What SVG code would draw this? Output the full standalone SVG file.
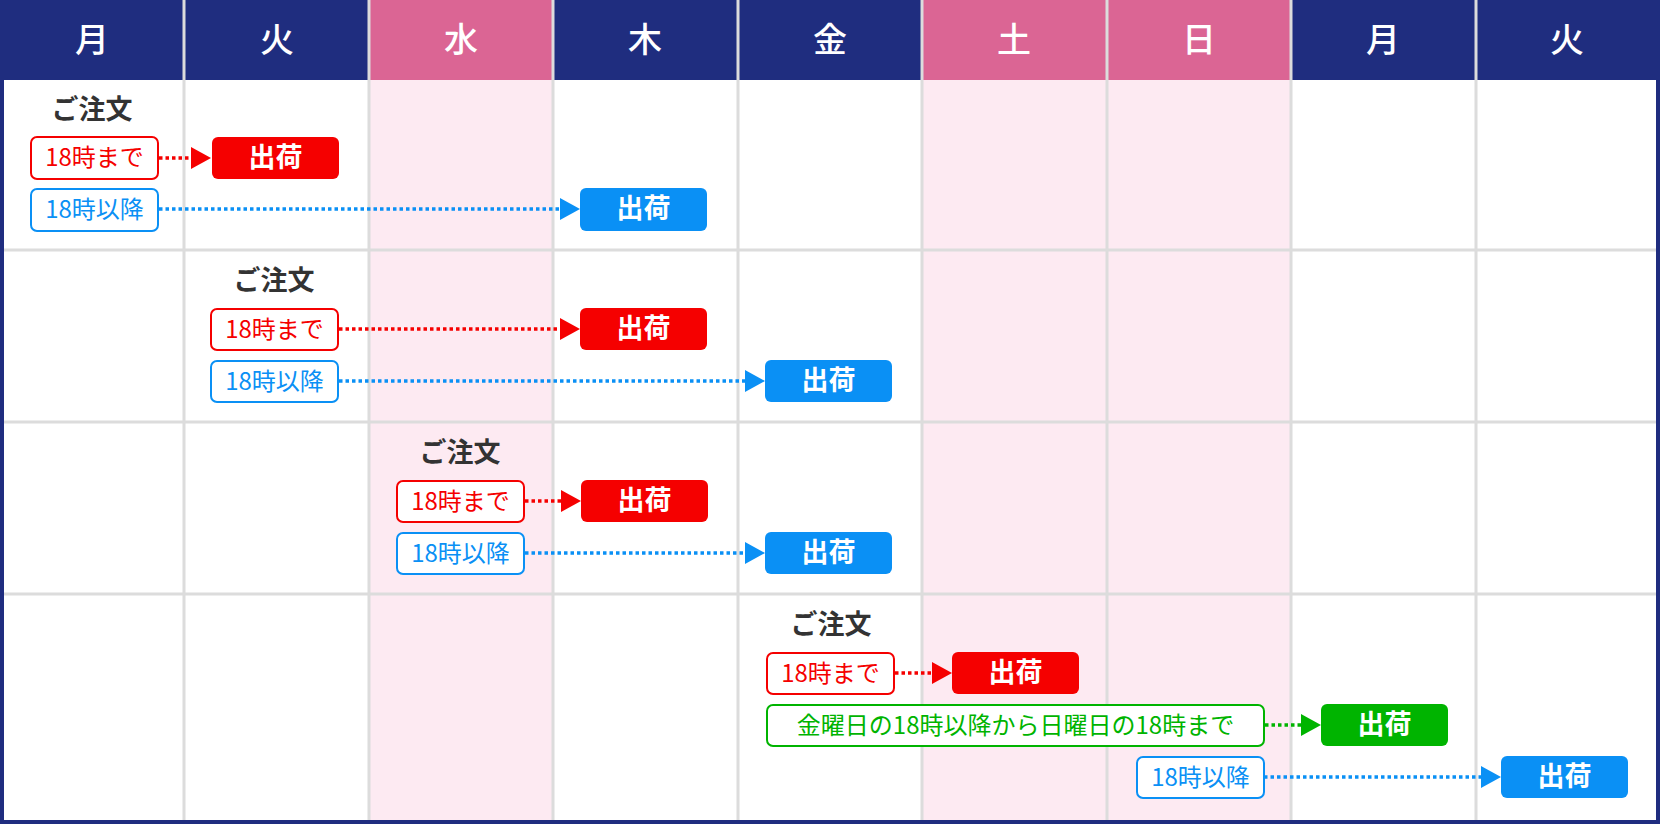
<svg xmlns="http://www.w3.org/2000/svg" width="1660" height="824" viewBox="0 0 1660 824">
<style>
.hd{font:500 34px "Noto Sans CJK JP","Noto Sans",sans-serif;fill:#fff;text-anchor:middle}
.od{font:700 27px "Noto Sans CJK JP",sans-serif;fill:#333;text-anchor:middle}
.lb{font:400 24px "Noto Sans CJK JP",sans-serif;text-anchor:middle}
.sh{font:700 27px "Noto Sans CJK JP",sans-serif;fill:#fff;text-anchor:middle}
.r{fill:#f50000}.b{fill:#0a90f5}.g{fill:#00b400}
.rb{fill:#fff;stroke:#f50000;stroke-width:2}.bb{fill:#fff;stroke:#0a90f5;stroke-width:2}.gb{fill:#fff;stroke:#00b400;stroke-width:2}
.cr{stroke:#f50000}.cb{stroke:#0a90f5}.cg{stroke:#00b400}
.c{stroke-width:3.5;stroke-dasharray:3.5 3;fill:none}
.gl{stroke:#dcdcdc;stroke-width:3}
</style>
<rect width="1660" height="824" fill="#1f2d7f"/>
<rect x="4" y="80" width="1652" height="740" fill="#fff"/>
<g id="bg">
<rect x="370" y="80" width="184" height="740" fill="#fdeaf2"/>
<rect x="922" y="80" width="368" height="740" fill="#fdeaf2"/>
<rect x="370" y="0" width="184" height="80" fill="#db6594"/>
<rect x="922" y="0" width="368" height="80" fill="#db6594"/>
</g>
<g id="grid">
<line class="gl" x1="4" y1="250" x2="1656" y2="250"/>
<line class="gl" x1="4" y1="422" x2="1656" y2="422"/>
<line class="gl" x1="4" y1="594" x2="1656" y2="594"/>
<line class="gl" x1="184" y1="0" x2="184" y2="820"/>
<line class="gl" x1="369" y1="0" x2="369" y2="820"/>
<line class="gl" x1="553" y1="0" x2="553" y2="820"/>
<line class="gl" x1="738" y1="0" x2="738" y2="820"/>
<line class="gl" x1="922" y1="0" x2="922" y2="820"/>
<line class="gl" x1="1107" y1="0" x2="1107" y2="820"/>
<line class="gl" x1="1291" y1="0" x2="1291" y2="820"/>
<line class="gl" x1="1476" y1="0" x2="1476" y2="820"/>
</g>
<g id="header">
<text class="hd" x="92" y="52">月</text><text class="hd" x="277" y="52">火</text><text class="hd" x="461" y="52">水</text>
<text class="hd" x="645" y="52">木</text><text class="hd" x="830" y="52">金</text><text class="hd" x="1014" y="52">土</text>
<text class="hd" x="1199" y="52">日</text><text class="hd" x="1383" y="52">月</text><text class="hd" x="1567" y="52">火</text>
</g>
<g id="connectors">
<line class="c cr" x1="159" y1="158" x2="192" y2="158"/><polygon class="r" points="191,147 211,158 191,169"/>
<line class="c cb" x1="159" y1="209" x2="561" y2="209"/><polygon class="b" points="560,198 580,209 560,220"/>
<line class="c cr" x1="339" y1="329" x2="561" y2="329"/><polygon class="r" points="560,318 580,329 560,340"/>
<line class="c cb" x1="339" y1="381" x2="746" y2="381"/><polygon class="b" points="745,370 765,381 745,392"/>
<line class="c cr" x1="525" y1="501" x2="562" y2="501"/><polygon class="r" points="561,490 581,501 561,512"/>
<line class="c cb" x1="525" y1="553" x2="746" y2="553"/><polygon class="b" points="745,542 765,553 745,564"/>
<line class="c cr" x1="895" y1="673" x2="933" y2="673"/><polygon class="r" points="932,662 952,673 932,684"/>
<line class="c cg" x1="1265" y1="725" x2="1302" y2="725"/><polygon class="g" points="1301,714 1321,725 1301,736"/>
<line class="c cb" x1="1264" y1="777" x2="1482" y2="777"/><polygon class="b" points="1481,766 1501,777 1481,788"/>
</g>
<g id="row1">
<text class="od" x="92" y="119">ご注文</text>
<g id="r1a"><rect class="rb" x="31" y="137" width="127" height="42" rx="6"/><text class="lb r" x="94.5" y="166">18時まで</text></g>
<g id="r1b"><rect class="r" x="212" y="137" width="127" height="42" rx="6"/><text class="sh" x="275.5" y="167">出荷</text></g>
<g id="r1c"><rect class="bb" x="31" y="189" width="127" height="42" rx="6"/><text class="lb b" x="94.5" y="218">18時以降</text></g>
<g id="r1d"><rect class="b" x="580" y="188" width="127" height="43" rx="6"/><text class="sh" x="643.5" y="218">出荷</text></g>
</g>
<g id="row2">
<text class="od" x="274" y="290">ご注文</text>
<g id="r2a"><rect class="rb" x="211" y="309" width="127" height="41" rx="6"/><text class="lb r" x="274.5" y="338">18時まで</text></g>
<g id="r2b"><rect class="r" x="580" y="308" width="127" height="42" rx="6"/><text class="sh" x="643.5" y="338">出荷</text></g>
<g id="r2c"><rect class="bb" x="211" y="361" width="127" height="41" rx="6"/><text class="lb b" x="274.5" y="390">18時以降</text></g>
<g id="r2d"><rect class="b" x="765" y="360" width="127" height="42" rx="6"/><text class="sh" x="828.5" y="390">出荷</text></g>
</g>
<g id="row3">
<text class="od" x="460" y="462">ご注文</text>
<g id="r3a"><rect class="rb" x="397" y="481" width="127" height="41" rx="6"/><text class="lb r" x="460.5" y="510">18時まで</text></g>
<g id="r3b"><rect class="r" x="581" y="480" width="127" height="42" rx="6"/><text class="sh" x="644.5" y="510">出荷</text></g>
<g id="r3c"><rect class="bb" x="397" y="533" width="127" height="41" rx="6"/><text class="lb b" x="460.5" y="562">18時以降</text></g>
<g id="r3d"><rect class="b" x="765" y="532" width="127" height="42" rx="6"/><text class="sh" x="828.5" y="562">出荷</text></g>
</g>
<g id="row4">
<text class="od" x="831" y="634">ご注文</text>
<g id="r4a"><rect class="rb" x="767" y="653" width="127" height="41" rx="6"/><text class="lb r" x="830.5" y="682">18時まで</text></g>
<g id="r4b"><rect class="r" x="952" y="652" width="127" height="42" rx="6"/><text class="sh" x="1015.5" y="682">出荷</text></g>
<g id="r4c"><rect class="gb" x="767" y="705" width="497" height="41" rx="6"/><text class="lb g" x="1015.5" y="734">金曜日の18時以降から日曜日の18時まで</text></g>
<g id="r4d"><rect class="g" x="1321" y="704" width="127" height="42" rx="6"/><text class="sh" x="1384.5" y="734">出荷</text></g>
<g id="r4e"><rect class="bb" x="1137" y="757" width="127" height="41" rx="6"/><text class="lb b" x="1200.5" y="786">18時以降</text></g>
<g id="r4f"><rect class="b" x="1501" y="756" width="127" height="42" rx="6"/><text class="sh" x="1564.5" y="786">出荷</text></g>
</g>
</svg>
